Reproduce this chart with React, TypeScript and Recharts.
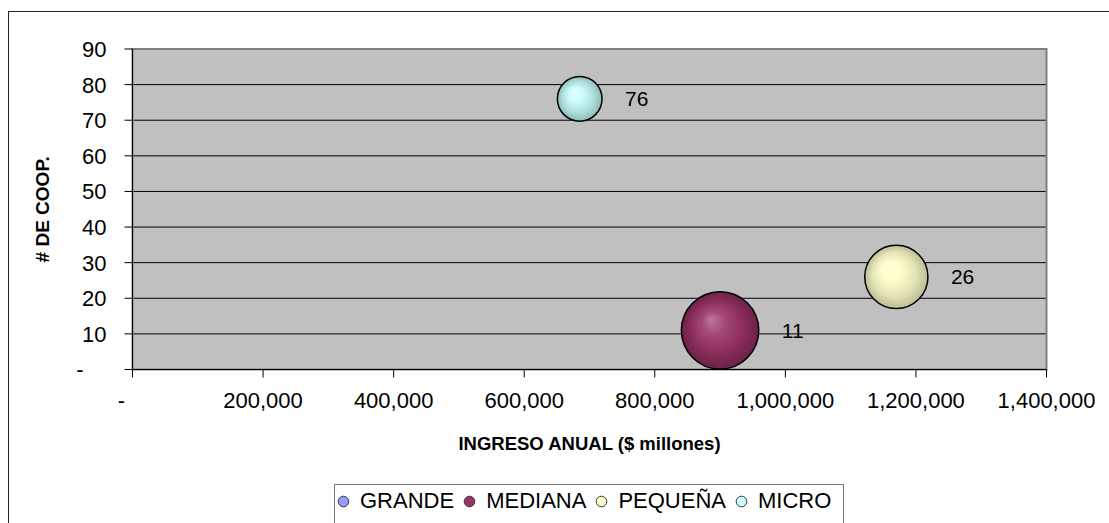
import React from 'react';
import {
  ScatterChart,
  Scatter,
  XAxis,
  YAxis,
  ZAxis,
  CartesianGrid,
  ReferenceArea,
  Legend,
} from 'recharts';

const categories = ['GRANDE', 'MEDIANA', 'PEQUEÑA', 'MICRO'];
// annual income ($ millones), x axis
const ingresoAnual: (number | null)[] = [null, 900000, 1170000, 685000];
// number of cooperatives, y axis
const numCoop: (number | null)[] = [null, 11, 26, 76];
// relative bubble size
const tamano: (number | null)[] = [null, 3, 2, 1];

const xTicks = [0, 200000, 400000, 600000, 800000, 1000000, 1200000, 1400000];
const yTicks = [0, 10, 20, 30, 40, 50, 60, 70, 80, 90];

const legendColors = ['#9999FF', '#993366', '#FFFFCC', '#CCFFFF'];
const gradients = [
  { id: 'gGrande', stops: ['#D0D0FF', '#9999FF', '#7A7ACC', '#5C5C99'] },
  { id: 'gMediana', stops: ['#BE7A9A', '#A24A74', '#8A2C58', '#6A2245'] },
  { id: 'gPequena', stops: ['#FFFFDA', '#FFFFCC', '#E2E2B6', '#BDBD96'] },
  { id: 'gMicro', stops: ['#E2FFFF', '#CCFFFF', '#B0DEDA', '#8CBBB6'] },
];

const series = categories.map((name, i) => ({
  name,
  data:
    ingresoAnual[i] == null
      ? []
      : [{ x: ingresoAnual[i], y: numCoop[i], z: tamano[i] }],
}));

const FONT = '"Liberation Sans", Arial, sans-serif';

const fmtX = (v: number) => v.toLocaleString('en-US');

const XTick = (props: any) => {
  const { x, y, payload } = props;
  const v = payload.value;
  return (
    <text
      x={v === 0 ? x - 11 : x}
      y={y}
      dy="0.71em"
      textAnchor="middle"
      fontSize={22}
      fill="#000"
    >
      {v === 0 ? '-' : fmtX(v)}
    </text>
  );
};

const YTick = (props: any) => {
  const { x, y, payload } = props;
  const v = payload.value;
  return (
    <text
      x={v === 0 ? x - 23 : x}
      y={y}
      dy="0.36em"
      textAnchor="end"
      fontSize={22}
      fill="#000"
    >
      {v === 0 ? '-' : v}
    </text>
  );
};

const makeBubble = (gradId: string) => (props: any) => {
  const { cx, cy, width, payload } = props;
  if (cx == null || cy == null) return <g />;
  const r = width / 2;
  return (
    <g>
      <circle cx={cx} cy={cy} r={r} fill={`url(#${gradId})`} stroke="#000" strokeWidth={1.5} />
      <text
        x={cx + r + 23}
        y={cy}
        dy="0.36em"
        textAnchor="start"
        fontSize={21}
        fill="#000"
      >
        {payload.y}
      </text>
    </g>
  );
};

const LegendBox = () => (
  <div
    style={{
      border: '1.5px solid #777',
      height: 60,
      boxSizing: 'border-box',
      display: 'flex',
      alignItems: 'flex-start',
      paddingTop: 3,
      paddingLeft: 2,
      fontFamily: FONT,
      fontSize: 22,
      lineHeight: '26px',
      color: '#000',
    }}
  >
    {categories.map((c, i) => (
      <div key={c} style={{ display: 'flex', alignItems: 'center', marginRight: 9 }}>
        <svg width={13} height={13} style={{ marginRight: 10 }}>
          <circle cx={6.5} cy={6.5} r={5.3} fill={legendColors[i]} stroke="#333" strokeWidth={1} />
        </svg>
        <span>{c}</span>
      </div>
    ))}
  </div>
);

export default function App() {
  return (
    <div
      style={{
        position: 'absolute',
        left: 0,
        top: 0,
        width: 1109,
        height: 523,
        overflow: 'hidden',
        background: '#fff',
        fontFamily: FONT,
      }}
    >
      <div
        style={{
          position: 'absolute',
          left: 8,
          top: 11,
          width: 1200,
          height: 600,
          border: '1.5px solid #222',
        }}
      />
      <ScatterChart
        width={1109}
        height={523}
        margin={{ top: 49, right: 62.5, bottom: 0, left: 0 }}
        style={{ fontFamily: FONT }}
      >
        <defs>
          {gradients.map((g) => (
            <radialGradient key={g.id} id={g.id} cx="50%" cy="50%" r="50%" fx="38%" fy="36%">
              <stop offset="0%" stopColor={g.stops[0]} />
              <stop offset="30%" stopColor={g.stops[1]} />
              <stop offset="70%" stopColor={g.stops[2]} />
              <stop offset="100%" stopColor={g.stops[3]} />
            </radialGradient>
          ))}
        </defs>
        <CartesianGrid vertical={false} stroke="#000" fill="#C0C0C0" fillOpacity={1} />
        <ReferenceArea
          x1={0}
          x2={1400000}
          y1={0}
          y2={90}
          fill="none"
          stroke="#808080"
          strokeWidth={2}
          ifOverflow="visible"
        />
        <XAxis
          type="number"
          dataKey="x"
          domain={[0, 1400000]}
          ticks={xTicks}
          interval={0}
          height={103.5}
          tickSize={8}
          tickMargin={15}
          tick={<XTick />}
          axisLine={{ stroke: '#000' }}
          tickLine={{ stroke: '#000' }}
          label={{
            content: (p: any) => {
              const vb = p.viewBox;
              return (
                <text
                  x={vb.x + vb.width / 2}
                  y={vb.y + 74}
                  dy="0.36em"
                  textAnchor="middle"
                  fontSize={18.5}
                  fontWeight="bold"
                  fill="#000"
                >
                  INGRESO ANUAL ($ millones)
                </text>
              );
            },
          }}
        />
        <YAxis
          type="number"
          dataKey="y"
          domain={[0, 90]}
          ticks={yTicks}
          interval={0}
          width={132.5}
          tickSize={8}
          tickMargin={18}
          tick={<YTick />}
          axisLine={{ stroke: '#000' }}
          tickLine={{ stroke: '#000' }}
          label={{
            content: (p: any) => {
              const vb = p.viewBox;
              const lx = vb.x + 42;
              const ly = vb.y + vb.height / 2;
              return (
                <text
                  x={lx}
                  y={ly}
                  dy="0.36em"
                  textAnchor="middle"
                  fontSize={19}
                  fontWeight="bold"
                  fill="#000"
                  transform={`rotate(-90, ${lx}, ${ly})`}
                >
                  # DE COOP.
                </text>
              );
            },
          }}
        />
        <ZAxis type="number" dataKey="z" domain={[0, 3]} range={[0, 4705]} />
        <Legend
          content={() => <LegendBox />}
          wrapperStyle={{ left: 334, top: 484, width: 510, height: 50 }}
        />
        {series.map((s, i) => (
          <Scatter
            key={s.name}
            name={s.name}
            data={s.data}
            fill={legendColors[i]}
            shape={makeBubble(gradients[i].id)}
            isAnimationActive={false}
          />
        ))}
      </ScatterChart>
    </div>
  );
}
